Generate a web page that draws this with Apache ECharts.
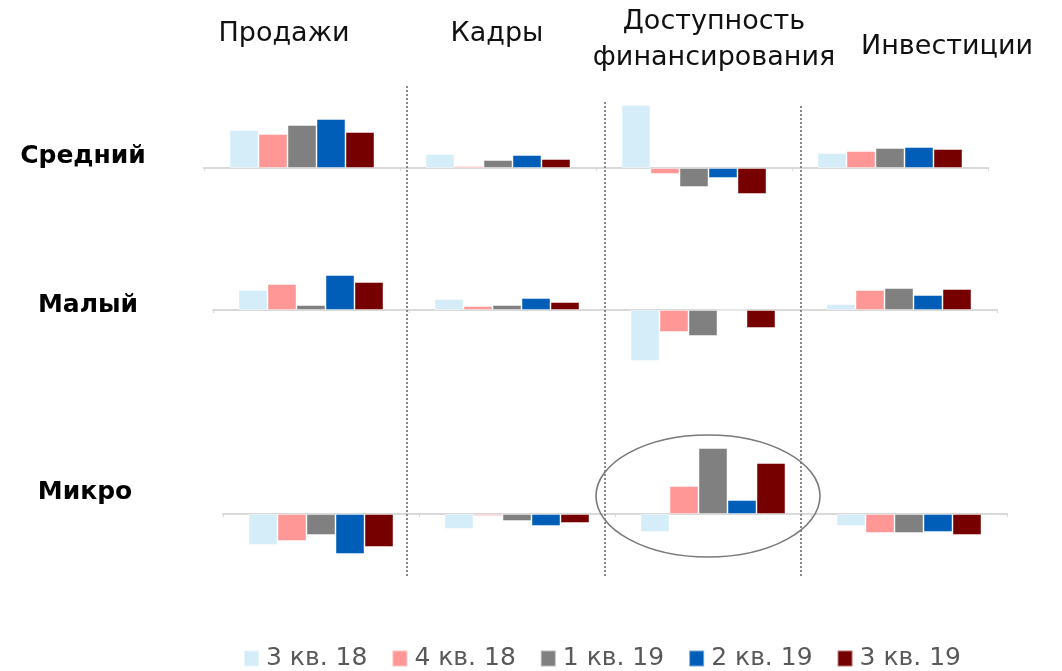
<!DOCTYPE html>
<html>
<head>
<meta charset="utf-8">
<script src="https://cdn.jsdelivr.net/npm/echarts@6/dist/echarts.min.js"></script>
<style>
html,body{margin:0;padding:0;background:#fff;}
#chart{width:1062px;height:671px;}
</style>
</head>
<body>
<div id="chart"></div>
<script>
// ---- data ----
var categories = ['Продажи', 'Кадры', 'Доступность\nфинансирования', 'Инвестиции'];
var rowNames = ['Средний', 'Малый', 'Микро'];
var quarters = ['3 кв. 18', '4 кв. 18', '1 кв. 19', '2 кв. 19', '3 кв. 19'];

// values per row: one array per quarter, across categories
var mediumQ318 = [38, 14, 63, 15];
var mediumQ418 = [34, 2, -6, 17];
var mediumQ119 = [43, 8, -19, 20];
var mediumQ219 = [49, 13, -10, 21];
var mediumQ319 = [36, 9, -26, 19];

var smallQ318 = [20, 11, -51, 6];
var smallQ418 = [26, 4, -22, 20];
var smallQ119 = [5, 5, -26, 22];
var smallQ219 = [35, 12, 0, 15];
var smallQ319 = [28, 8, -18, 21];

var microQ318 = [-31, -15, -18, -12];
var microQ418 = [-27, -2, 28, -19];
var microQ119 = [-21, -7, 66, -19];
var microQ219 = [-40, -12, 14, -18];
var microQ319 = [-33, -9, 51, -21];

var rowData = [
  [mediumQ318, mediumQ418, mediumQ119, mediumQ219, mediumQ319],
  [smallQ318, smallQ418, smallQ119, smallQ219, smallQ319],
  [microQ318, microQ418, microQ119, microQ219, microQ319]
];

// ---- styling / layout ----
var colors = ['#D4EDF9', '#FF9797', '#808080', '#005EB8', '#760000'];
var FONT = "'DejaVu Sans', sans-serif";
var grids = [
  {left: 204, right: 74, top: 98, height: 110, min: -40, max: 70},
  {left: 213, right: 65, top: 270, height: 100, min: -60, max: 40},
  {left: 223, right: 55, top: 434, height: 130, min: -50, max: 80}
];
var headerPos = [[284, 34], [497, 34], [714, 40], [947, 47]];
var rowLabelPos = [[83, 156], [88, 305], [85, 492]];
var dividerX = [407, 605, 801];

var chart = echarts.init(document.getElementById('chart'), null, {renderer: 'canvas'});

var option = {
  animation: false,
  color: colors,
  grid: grids.map(function (g) {
    return {left: g.left, right: g.right, top: g.top, height: g.height, containLabel: false, outerBoundsMode: 'none'};
  }),
  xAxis: grids.map(function (g, i) {
    return {
      type: 'category', gridIndex: i, data: categories,
      axisLine: {show: true, onZero: true, lineStyle: {color: '#D9D9D9', width: 2}},
      axisTick: {show: true, length: 3, lineStyle: {color: '#D9D9D9'}},
      axisLabel: {show: false},
      splitLine: {show: false}
    };
  }),
  yAxis: grids.map(function (g, i) {
    return {
      type: 'value', gridIndex: i, min: g.min, max: g.max,
      axisLine: {show: false}, axisTick: {show: false},
      axisLabel: {show: false}, splitLine: {show: false}
    };
  }),
  legend: {
    data: quarters.map(function (q) { return {name: q, icon: 'rect'}; }),
    left: 238, top: 641,
    itemWidth: 15, itemHeight: 16, itemGap: 24,
    textStyle: {fontFamily: FONT, fontSize: 25, color: '#595959', padding: [0, 0, 0, 2]}
  },
  series: [],
  graphic: []
};

rowData.forEach(function (rows, gi) {
  rows.forEach(function (vals, qi) {
    option.series.push({
      type: 'bar', name: quarters[qi], xAxisIndex: gi, yAxisIndex: gi,
      data: vals, barWidth: 29, barGap: '0%',
      itemStyle: {color: colors[qi], borderColor: 'rgba(255,255,255,0.45)', borderWidth: 1}
    });
  });
});

categories.forEach(function (c, i) {
  option.graphic.push({
    type: 'text', x: headerPos[i][0], y: headerPos[i][1], silent: true,
    style: {text: c, align: 'center', verticalAlign: 'middle', fontFamily: FONT,
            fontSize: 27, lineHeight: 36, fill: '#111'}
  });
});
rowNames.forEach(function (r, i) {
  option.graphic.push({
    type: 'text', x: rowLabelPos[i][0], y: rowLabelPos[i][1], silent: true,
    style: {text: r, align: 'center', verticalAlign: 'middle', fontFamily: FONT,
            fontSize: 25, fontWeight: 'bold', fill: '#000'}
  });
});
var dividerTop = [86, 102, 106];
dividerX.forEach(function (x, i) {
  option.graphic.push({
    type: 'line', silent: true, z: 1,
    shape: {x1: x, y1: dividerTop[i], x2: x, y2: 578},
    style: {stroke: '#8a8a8a', lineWidth: 2, lineDash: [2, 2]}
  });
});
option.graphic.push({
  type: 'ellipse', silent: true, z: 100,
  shape: {cx: 708, cy: 496, rx: 112, ry: 61},
  style: {fill: null, stroke: '#7a7a7a', lineWidth: 1.6}
});

chart.setOption(option);
</script>
</body>
</html>
